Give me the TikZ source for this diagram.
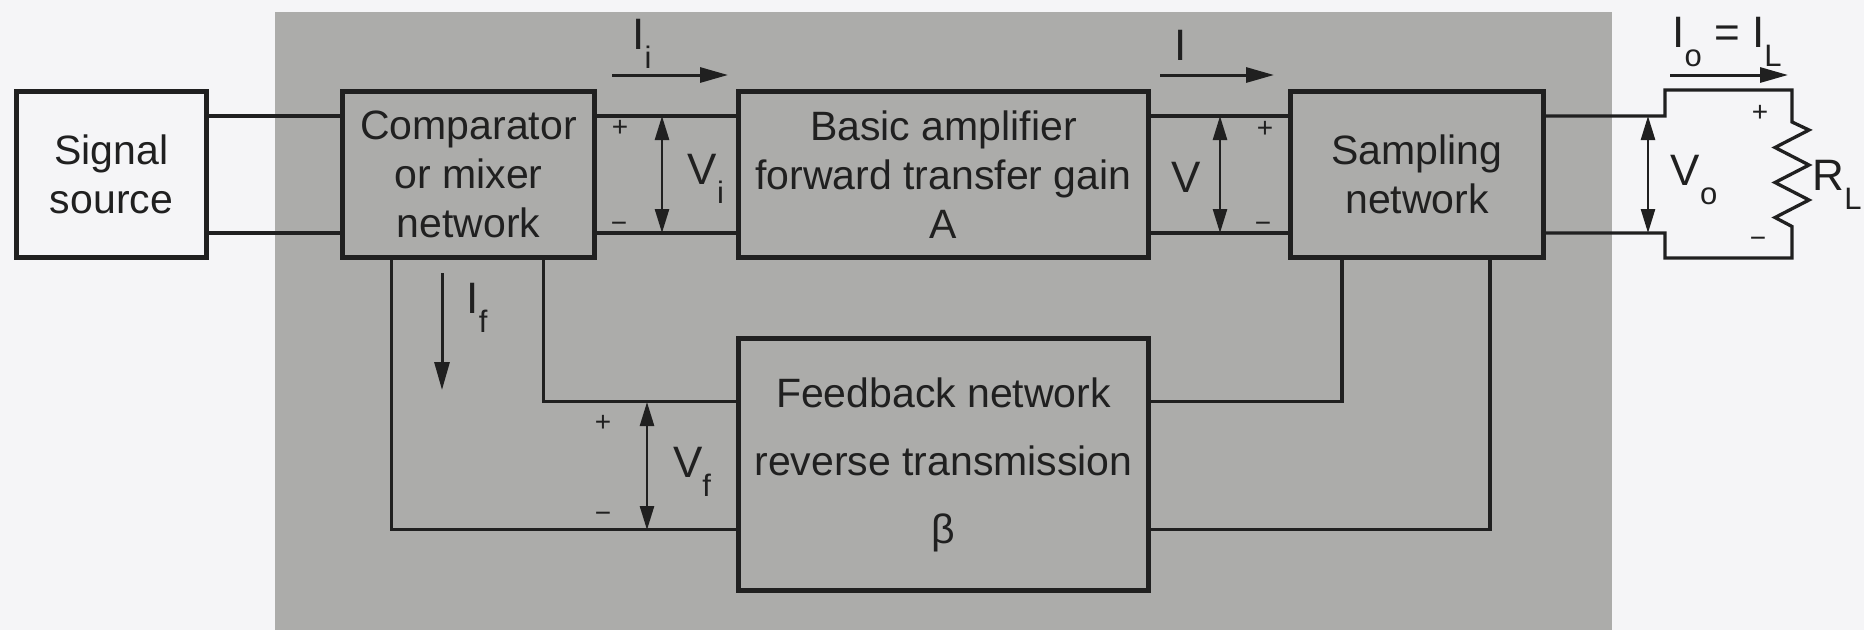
\documentclass[tikz,border=0pt]{standalone}
\usepackage{fontspec}
\setmainfont{Liberation Sans}
\usetikzlibrary{positioning,arrows.meta}
\definecolor{panel}{RGB}{172,172,170}
\definecolor{paper}{RGB}{245,245,247}
\definecolor{ink}{RGB}{32,32,32}
\newcommand{\lsub}[1]{\raisebox{-0.42em}{\fontsize{31}{31}\selectfont #1}}

\begin{document}
\begin{tikzpicture}[x=1pt, y=-1pt, font=\fontsize{41}{49}\selectfont, text=ink,
   blk/.style={draw=ink, line width=4.2pt, align=center, inner sep=0pt, outer sep=0pt, minimum height=166pt},
   src/.style={blk, fill=paper, minimum width=190pt},
   wire/.style={draw=ink, line width=3.3pt},
   cur/.style={draw=ink, line width=3pt, -{Triangle[length=28pt,width=15pt]}},
   volt/.style={draw=ink, line width=2.6pt, {Triangle[length=24pt,width=14pt]}-{Triangle[length=24pt,width=14pt]}},
   sgn/.style={font=\fontsize{28}{28}\selectfont},
   lbl/.style={font=\fontsize{44}{44}\selectfont}]
  \useasboundingbox (0,0) rectangle (1864,630);
  \fill[paper] (0,0) rectangle (1864,630);
  % shaded amplifier part
  \fill[panel] (275,12) rectangle (1612,630);

  % blocks
  \node[src] (sig) at (111.5,174.5) {Signal\\source};
  \node[blk, right=136pt of sig, minimum width=252pt] (comp) {Comparator\\or mixer\\network};
  \node[blk, right=144pt of comp, minimum width=410pt] (amp) {Basic amplifier\\forward transfer gain\\A};
  \node[blk, right=142pt of amp, minimum width=253pt] (samp) {Sampling\\network};
  \node[blk, below=81pt of amp, minimum width=410pt, minimum height=252pt,
        font=\fontsize{41}{68}\selectfont] (fb) {Feedback network\\reverse transmission\\β};

  % forward path
  \draw[wire] ([yshift=58.5pt]sig.east) -- ([yshift=58.5pt]comp.west);
  \draw[wire] ([yshift=-58.5pt]sig.east) -- ([yshift=-58.5pt]comp.west);
  \draw[wire] ([yshift=58.5pt]comp.east) -- ([yshift=58.5pt]amp.west);
  \draw[wire] ([yshift=-58.5pt]comp.east) -- ([yshift=-58.5pt]amp.west);
  \draw[wire] ([yshift=58.5pt]amp.east) -- ([yshift=58.5pt]samp.west);
  \draw[wire] ([yshift=-58.5pt]amp.east) -- ([yshift=-58.5pt]samp.west);

  % feedback path
  \draw[wire] ([xshift=75pt]comp.south) |- ([yshift=63pt]fb.west);
  \draw[wire] ([xshift=-77pt]comp.south) |- ([yshift=-65pt]fb.west);
  \draw[wire] ([yshift=63pt]fb.east) -| ([xshift=-75pt]samp.south);
  \draw[wire] ([yshift=-65pt]fb.east) -| ([xshift=73pt]samp.south);

  % load R_L
  \coordinate (lt) at (1665,90);
  \coordinate (rt) at (1792,90);
  \coordinate (lb) at (1665,258);
  \coordinate (rb) at (1792,258);
  \draw[wire, line join=miter] ([yshift=58.5pt]samp.east) -| (lt) -- (rt) -- ++(0,32)
     -- ++(17,8) -- ++(-34,17.5) -- ++(34,17.5) -- ++(-34,17.5) -- ++(34,17.5) -- ++(-34,17.5) -- ++(17,9)
     -- (rb) -- (lb) |- ([yshift=-58.5pt]samp.east);

  % currents
  \coordinate (ii0) at (612,75);  \coordinate (ii1) at (728,75);
  \coordinate (ia0) at (1160,75); \coordinate (ia1) at (1274,75);
  \coordinate (io0) at (1670,75); \coordinate (io1) at (1788,75);
  \coordinate (if0) at (442,273); \coordinate (if1) at (442,390);
  \draw[cur] (ii0) -- (ii1);
  \draw[cur] (ia0) -- (ia1);
  \draw[cur] (io0) -- (io1);
  \draw[cur] (if0) -- (if1);
  \node[lbl] (lii) at (642,44) {I\lsub{i}};
  \node[lbl] (lia) at (1181,45) {I};
  \node[lbl] (lio) at (1727,42) {I\lsub{o} = I\lsub{L}};
  \node[lbl] (lif) at (477,308) {I\lsub{f}};

  % voltages
  \coordinate (vi0) at (662,116);  \coordinate (vi1) at (662,233);
  \coordinate (va0) at (1220,116); \coordinate (va1) at (1220,233);
  \coordinate (vo0) at (1648,116); \coordinate (vo1) at (1648,233);
  \coordinate (vf0) at (647,402);  \coordinate (vf1) at (647,530);
  \draw[volt] (vi0) -- (vi1);
  \draw[volt] (va0) -- (va1);
  \draw[volt] (vo0) -- (vo1);
  \draw[volt] (vf0) -- (vf1);
  \node[lbl] (lvi) at (706,179) {V\lsub{i}};
  \node[lbl] (lva) at (1186,177) {V};
  \node[lbl] (lvo) at (1694,180) {V\lsub{o}};
  \node[lbl] (lvf) at (692,472) {V\lsub{f}};
  \node[lbl] (lrl) at (1837,185) {R\lsub{L}};

  % polarity marks
  \node[sgn] (pi) at (620,128) {+};   \node[sgn] (mi) at (619,227) {−};
  \node[sgn] (pa) at (1265,129) {+};  \node[sgn] (ma) at (1263,227) {−};
  \node[sgn] (po) at (1760,113) {+};  \node[sgn] (mo) at (1758,242) {−};
  \node[sgn] (pf) at (603,423) {+};   \node[sgn] (mf) at (603,517) {−};
\end{tikzpicture}
\end{document}
